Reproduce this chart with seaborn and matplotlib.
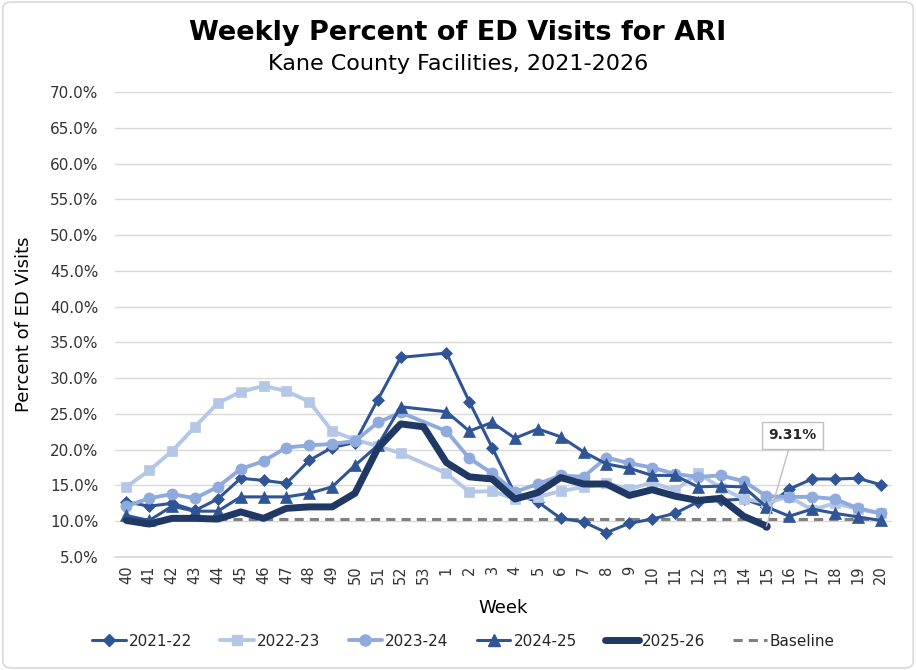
import numpy as np
import pandas as pd
import matplotlib
matplotlib.use("Agg")
import matplotlib.pyplot as plt
import seaborn as sns
from matplotlib.patches import FancyBboxPatch
from matplotlib.lines import Line2D

weeks = ["40", "41", "42", "43", "44", "45", "46", "47", "48", "49", "50", "51", "52", "53",
         "1", "2", "3", "4", "5", "6", "7", "8", "9", "10", "11", "12", "13", "14", "15",
         "16", "17", "18", "19", "20"]

nan = np.nan
s2021 = [12.7, 12.1, 12.5, 11.5, 13.1, 16.0, 15.7, 15.3, 18.5, 20.3, 21.0, 27.0, 32.9, nan,
         33.5, 26.7, 20.3, 13.8, 12.7, 10.4, 9.9, 8.4, 9.7, 10.3, 11.1, 12.7, 12.9, 13.1, 12.0,
         14.5, 15.9, 15.9, 16.0, 15.1]
s2022 = [14.8, 17.1, 19.8, 23.2, 26.5, 28.1, 28.9, 28.2, 26.7, 22.6, 21.4, 20.5, 19.5, nan,
         16.7, 14.1, 14.2, 13.1, 13.4, 14.2, 14.8, 15.3, 14.5, 15.4, 14.3, 16.7, 14.7, 13.1, 12.6,
         13.4, 11.6, 12.5, 11.7, 11.1]
s2023 = [12.1, 13.2, 13.8, 13.2, 14.8, 17.3, 18.4, 20.3, 20.6, 20.8, 21.2, 23.8, 25.2, nan,
         22.6, 18.8, 16.7, 14.1, 15.2, 16.4, 16.2, 18.9, 18.1, 17.5, 16.6, 16.2, 16.4, 15.6, 13.5,
         13.4, 13.4, 13.1, 11.8, 11.1]
s2024 = [10.8, 10.1, 12.1, 11.4, 11.4, 13.4, 13.4, 13.4, 13.9, 14.8, 17.8, 20.6, 26.0, nan,
         25.3, 22.6, 23.8, 21.6, 22.9, 21.8, 19.7, 18.0, 17.4, 16.4, 16.4, 14.8, 14.9, 14.8, 12.0,
         10.7, 11.7, 11.1, 10.6, 10.1]
s2025 = [10.1, 9.6, 10.4, 10.4, 10.3, 11.3, 10.4, 11.8, 12.0, 12.0, 13.9, 20.2, 23.6, 23.2,
         18.2, 16.2, 15.9, 13.1, 14.0, 16.1, 15.2, 15.2, 13.6, 14.4, 13.5, 12.9, 13.2, 10.7, 9.31,
         nan, nan, nan, nan, nan]
baseline = 10.3

seasons = ["2021-22", "2022-23", "2023-24", "2024-25", "2025-26"]
values = [s2021, s2022, s2023, s2024, s2025]
colors = ["#2F5597", "#B4C7E7", "#8FAADC", "#2F5597", "#1F3864"]
markers = ["D", "s", "o", "^", None]
msizes = [6, 7, 8, 8, 0]
lwidths = [2.2, 2.8, 2.8, 2.2, 5.0]

rows = []
for name, vals in zip(seasons, values):
    for i, v in enumerate(vals):
        if not np.isnan(v):
            rows.append({"season": name, "pos": i, "week": weeks[i], "pct": v})
df = pd.DataFrame(rows)

sns.set_theme(style="white")
plt.rcParams["font.family"] = ["DejaVu Sans"]

fig = plt.figure(figsize=(9.16, 6.70), dpi=100)
ax = fig.add_axes([0.1255, 0.1687, 0.8485, 0.694])

for name, c, m, ms, lw in zip(seasons, colors, markers, msizes, lwidths):
    sub = df[df["season"] == name]
    sns.lineplot(data=sub, x="pos", y="pct", ax=ax, color=c, linewidth=lw,
                 marker=m if m else None, markersize=ms, markeredgecolor=c,
                 markeredgewidth=0.5, sort=False, zorder=3 if name != "2025-26" else 4,
                 legend=False)

# last point marker for 2025-26
last = df[df["season"] == "2025-26"].iloc[-1]
ax.plot([last["pos"]], [last["pct"]], marker="o", color="#1F3864", markersize=5, zorder=5)

ax.plot([0, len(weeks) - 1], [baseline, baseline], color="#808080", linestyle=(0, (3, 2)),
        linewidth=2.2, zorder=2)

ax.set_xlim(-0.5, len(weeks) - 0.5)
ax.set_ylim(5, 70)
ax.set_yticks(np.arange(5, 70.1, 5))
ax.set_yticklabels([f"{v:.1f}%" for v in np.arange(5, 70.1, 5)], fontsize=11, color="#333333")
ax.set_xticks(range(len(weeks)))
ax.set_xticklabels(weeks, rotation=90, fontsize=10.5, color="#333333")
ax.yaxis.grid(True, color="#D9D9D9", linewidth=1)
ax.xaxis.grid(False)
for s in ["top", "right", "left"]:
    ax.spines[s].set_visible(False)
ax.spines["bottom"].set_color("#D9D9D9")
ax.tick_params(axis="y", length=0, pad=12)
ax.tick_params(axis="x", length=0, pad=6)
ax.set_xlabel("Week", fontsize=13, color="#000000", labelpad=11)
ax.set_ylabel("Percent of ED Visits", fontsize=13, color="#000000", labelpad=12)

fig.text(0.5, 0.951, "Weekly Percent of ED Visits for ARI", ha="center", va="center",
         fontsize=19.5, fontweight="bold", color="black")
fig.text(0.5, 0.905, "Kane County Facilities, 2021-2026", ha="center", va="center",
         fontsize=16, color="black")

# annotation for last value
ax.annotate(f"{last['pct']:.2f}%", xy=(last["pos"], last["pct"]),
            xytext=(last["pos"] + 1.15, 22.0), ha="center", va="center",
            fontsize=10, fontweight="bold", color="#262626",
            bbox=dict(boxstyle="square,pad=0.45", fc="white", ec="#BFBFBF", lw=1),
            arrowprops=dict(arrowstyle="-", color="#BFBFBF", lw=1,
                            shrinkA=0, shrinkB=0),
            zorder=6)

handles = []
for name, c, m, ms, lw in zip(seasons, colors, markers, msizes, lwidths):
    handles.append(Line2D([0], [0], color=c, linewidth=lw, marker=m if m else None,
                          markersize=ms, label=name))
handles.append(Line2D([0], [0], color="#808080", linewidth=2.2, linestyle=(0, (3, 2)),
                      label="Baseline"))
fig.legend(handles=handles, loc="center", bbox_to_anchor=(0.506, 0.043), ncol=6,
           frameon=False, fontsize=11, handlelength=2.2, columnspacing=1.85, handletextpad=0.2)

border = FancyBboxPatch((0.003, 0.003), 0.994, 0.994, boxstyle="round,pad=0,rounding_size=0.01",
                        transform=fig.transFigure, fill=False, ec="#D9D9D9", lw=1.2)
fig.patches.append(border)

fig.savefig("out.png", dpi=100)
